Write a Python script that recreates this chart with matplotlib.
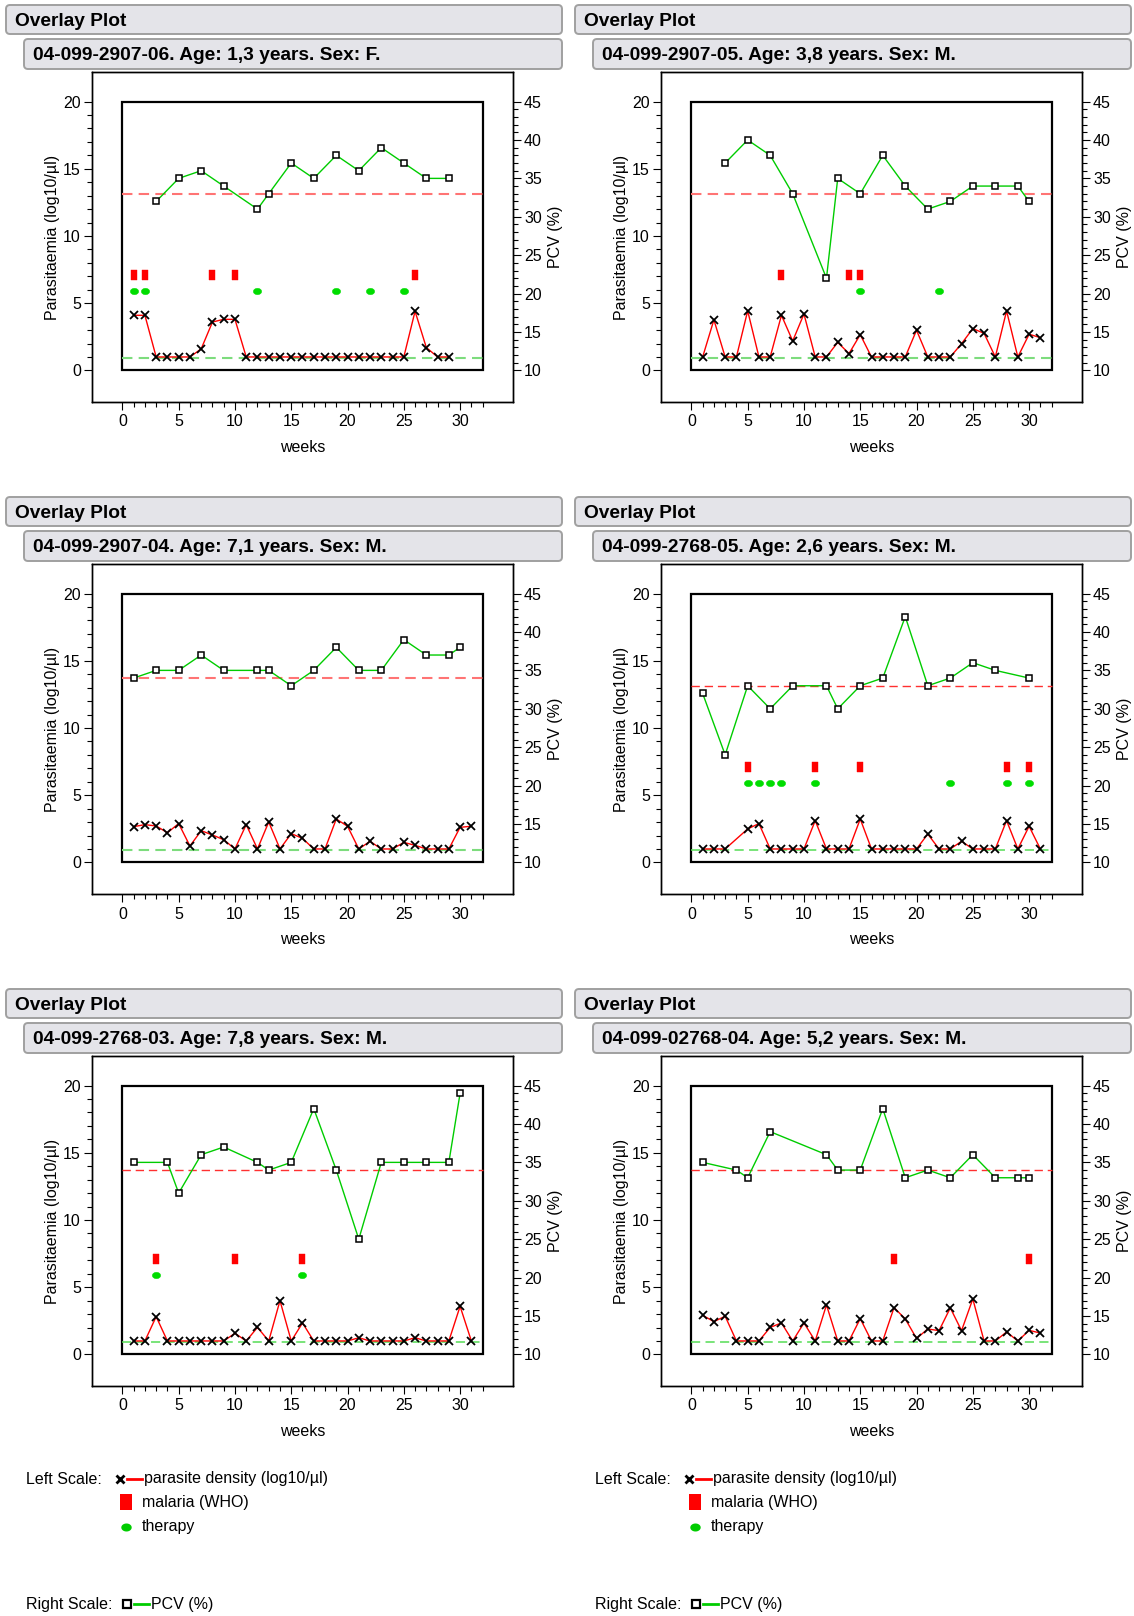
import numpy as np
import matplotlib.pyplot as plt
from matplotlib.patches import FancyBboxPatch, Rectangle
from matplotlib.ticker import FixedLocator

plt.rcParams['font.family'] = ['Liberation Sans', 'DejaVu Sans']

# ---- data ----
titles = [
    "04-099-2907-06. Age: 1,3 years. Sex: F.",
    "04-099-2907-05. Age: 3,8 years. Sex: M.",
    "04-099-2907-04. Age: 7,1 years. Sex: M.",
    "04-099-2768-05. Age: 2,6 years. Sex: M.",
    "04-099-2768-03. Age: 7,8 years. Sex: M.",
    "04-099-02768-04. Age: 5,2 years. Sex: M.",
]

par_weeks_1 = list(range(1, 30))
par_vals_1 = [4.1, 4.1, 1, 1, 1, 1, 1.6, 3.6, 3.8, 3.8, 1, 1, 1, 1, 1, 1, 1, 1, 1, 1,
              1, 1, 1, 1, 1, 4.4, 1.7, 1, 1]
pcv_weeks_1 = [3, 5, 7, 9, 12, 13, 15, 17, 19, 21, 23, 25, 27, 29]
pcv_vals_1 = [32, 35, 36, 34, 31, 33, 37, 35, 38, 36, 39, 37, 35, 35]
malaria_1 = [1, 2, 8, 10, 26]
therapy_1 = [1, 2, 12, 19, 22, 25]

par_weeks_2 = list(range(1, 32))
par_vals_2 = [1, 3.76, 1, 1, 4.43, 1, 1, 4.1, 2.19, 4.2, 1, 1, 2.09, 1.25, 2.66, 1, 1, 1,
              1, 2.99, 1, 1, 1, 1.99, 3.11, 2.76, 1, 4.43, 1, 2.69, 2.44]
pcv_weeks_2 = [3, 5, 7, 9, 12, 13, 15, 17, 19, 21, 23, 25, 27, 29, 30]
pcv_vals_2 = [37, 40, 38, 33, 22, 35, 33, 38, 34, 31, 32, 34, 34, 34, 32]
malaria_2 = [8, 14, 15]
therapy_2 = [15, 22]

par_weeks_3 = list(range(1, 32))
par_vals_3 = [2.66, 2.81, 2.71, 2.21, 2.89, 1.22, 2.36, 2.04, 1.69, 1.0, 2.81, 1.0, 3.01,
              1.0, 2.14, 1.79, 1.0, 1.0, 3.23, 2.69, 1.0, 1.57, 1.0, 1.0, 1.49, 1.27, 1.0,
              1.0, 1.0, 2.61, 2.69]
pcv_weeks_3 = [1, 3, 5, 7, 9, 12, 13, 15, 17, 19, 21, 23, 25, 27, 29, 30]
pcv_vals_3 = [34, 35, 35, 37, 35, 35, 35, 33, 35, 38, 35, 35, 39, 37, 37, 38]
malaria_3 = []
therapy_3 = []

par_weeks_4 = [1, 2, 3] + list(range(5, 32))
par_vals_4 = [1, 1, 1, 2.49, 2.89, 1, 1, 1, 1, 3.11, 1, 1, 1, 3.23, 1, 1, 1, 1, 1, 2.11,
              1, 1, 1.57, 1, 1, 1, 3.11, 1, 2.69, 1]
pcv_weeks_4 = [1, 3, 5, 7, 9, 12, 13, 15, 17, 19, 21, 23, 25, 27, 30]
pcv_vals_4 = [32, 24, 33, 30, 33, 33, 30, 33, 34, 42, 33, 34, 36, 35, 34]
malaria_4 = [5, 11, 15, 28, 30]
therapy_4 = [5, 6, 7, 8, 11, 23, 28, 30]

par_weeks_5 = list(range(1, 32))
par_vals_5 = [1, 1, 2.81, 1, 1, 1, 1, 1, 1, 1.57, 1, 2.01, 1, 4.0, 1, 2.34, 1, 1, 1, 1,
              1.24, 1, 1, 1, 1, 1.24, 1, 1, 1, 3.58, 1]
pcv_weeks_5 = [1, 4, 5, 7, 9, 12, 13, 15, 17, 19, 21, 23, 25, 27, 29, 30]
pcv_vals_5 = [35, 35, 31, 36, 37, 35, 34, 35, 42, 34, 25, 35, 35, 35, 35, 44]
malaria_5 = [3, 10, 16]
therapy_5 = [3, 16]

par_weeks_6 = list(range(1, 32))
par_vals_6 = [2.91, 2.44, 2.84, 1, 1, 1, 2.01, 2.34, 1, 2.34, 1, 3.68, 1, 1, 2.66, 1, 1,
              3.48, 2.64, 1.19, 1.89, 1.77, 3.46, 1.77, 4.13, 1, 1, 1.67, 1, 1.79, 1.59]
pcv_weeks_6 = [1, 4, 5, 7, 12, 13, 15, 17, 19, 21, 23, 25, 27, 29, 30]
pcv_vals_6 = [35, 34, 33, 39, 36, 34, 34, 42, 33, 34, 33, 36, 33, 33, 33]
malaria_6 = [18, 30]
therapy_6 = []

pcv_limits = [33, 33, 34, 33, 34, 34]
par_limit = 0.9
malaria_level = 7.1
therapy_level = 5.9

panels = [
    (par_weeks_1, par_vals_1, pcv_weeks_1, pcv_vals_1, malaria_1, therapy_1),
    (par_weeks_2, par_vals_2, pcv_weeks_2, pcv_vals_2, malaria_2, therapy_2),
    (par_weeks_3, par_vals_3, pcv_weeks_3, pcv_vals_3, malaria_3, therapy_3),
    (par_weeks_4, par_vals_4, pcv_weeks_4, pcv_vals_4, malaria_4, therapy_4),
    (par_weeks_5, par_vals_5, pcv_weeks_5, pcv_vals_5, malaria_5, therapy_5),
    (par_weeks_6, par_vals_6, pcv_weeks_6, pcv_vals_6, malaria_6, therapy_6),
]

# ---- layout (pixels) ----
W, H = 1134, 1616
COL_STEP, ROW_STEP = 569, 492
BOX_W, BOX_H = 32, 20
FS = 11.5

bar_marker = [(-3, -4), (3, -4), (3, 4), (-3, 4), (-3, -4)]
t = np.linspace(0, 2 * np.pi, 40)
oval_marker = list(zip(3.5 * np.cos(t), 2.7 * np.sin(t)))


def px_rect(l, t_, r, b):
    return [l / W, 1 - b / H, (r - l) / W, (b - t_) / H]


fig = plt.figure(figsize=(W / 100, H / 100), dpi=100)
bg = fig.add_axes([0, 0, 1, 1], zorder=-1)
bg.set_xlim(0, W)
bg.set_ylim(H, 0)
bg.axis('off')


def header(x0, y0, w, h, text):
    bg.add_patch(FancyBboxPatch((x0, y0), w, h, boxstyle="round,pad=0,rounding_size=4",
                                fc='#e4e4e9', ec='#a0a0a0', lw=1.4))
    bg.text(x0 + 9, y0 + h / 2 + 2, text, fontsize=13.8, fontweight='bold', va='center')


for i, (pw, pv, cw, cv, mal, thr) in enumerate(panels):
    dx = COL_STEP * (i % 2)
    dy = ROW_STEP * (i // 2)
    thin = i >= 3

    header(6 + dx, 5 + dy, 556, 29, "Overlay Plot")
    header(24 + dx, 39 + dy, 538, 30, titles[i])

    ax = fig.add_axes(px_rect(92 + dx, 72 + dy, 513 + dx, 402 + dy))
    ax.set_xlim(-2.7, 34.7)
    ax.set_ylim(-2.35, 22.2)
    ax2 = ax.twinx()
    lo, hi = ax.get_ylim()
    ax2.set_ylim(10 + 1.75 * lo, 10 + 1.75 * hi)

    for a in (ax, ax2):
        for s in a.spines.values():
            s.set_linewidth(1.0)
    ax.xaxis.set_major_locator(FixedLocator(range(0, 31, 5)))
    ax.xaxis.set_minor_locator(FixedLocator(range(0, 33)))
    ax.yaxis.set_major_locator(FixedLocator(range(0, 21, 5)))
    ax.yaxis.set_minor_locator(FixedLocator(range(0, 21)))
    ax2.yaxis.set_major_locator(FixedLocator(range(10, 46, 5)))
    ax2.yaxis.set_minor_locator(FixedLocator(range(10, 46)))
    ax.tick_params(axis='x', which='both', pad=3)
    ax.tick_params(axis='y', which='both', pad=2)
    ax2.tick_params(axis='y', which='both', pad=2)
    for a in (ax, ax2):
        a.tick_params(which='both', direction='out', labelsize=FS, width=0.8)
        a.tick_params(which='major', length=6)
        a.tick_params(which='minor', length=3.5)

    ax.add_patch(Rectangle((0, 0), BOX_W, BOX_H, fill=False, ec='black', lw=1.6, zorder=1.5))

    if thin:
        ax.hlines(par_limit, 0, BOX_W, colors='#55dd55', linestyles=(0, (6, 3.5)), lw=1.1)
        ax2.hlines(pcv_limits[i], 0, BOX_W, colors='#ff3030', linestyles=(0, (6, 3.5)), lw=1.0)
    else:
        ax.hlines(par_limit, 0, BOX_W, colors='#7ddc7d', linestyles=(0, (5, 3)), lw=1.5)
        ax2.hlines(pcv_limits[i], 0, BOX_W, colors='#ff7474', linestyles=(0, (5, 3)), lw=1.5)

    ax.plot(pw, pv, '-x', color='#ff0000', lw=1, mec='black', ms=5.6, mew=1.3, zorder=4)
    ax.plot(mal, [malaria_level] * len(mal), ls='none', marker=bar_marker, ms=6.6,
            mfc='#ff0000', mec='#ff0000', mew=0.3, zorder=4)
    ax.plot(thr, [therapy_level] * len(thr), ls='none', marker=oval_marker, ms=6.0,
            mfc='#00dd00', mec='#00dd00', mew=0.3, zorder=4)
    ax2.plot(cw, cv, '-s', color='#00cc00', lw=1, mfc='white', mec='black', ms=4.5, mew=1.1,
             zorder=4)

    ax.set_xlabel('weeks', fontsize=FS)
    ax.xaxis.set_label_coords(0.5, -0.115)
    ax.set_ylabel('Parasitaemia (log10/µl)', fontsize=FS)
    ax.yaxis.set_label_coords(-0.076, 0.5)
    ax2.set_ylabel('PCV (%)', fontsize=FS)
    ax2.yaxis.set_label_coords(1.083, 0.5)

# ---- legends under each column ----
for dx in (0, COL_STEP):
    bg.text(26 + dx, 1479, 'Left Scale:', fontsize=FS, va='center')
    bg.plot([127 + dx, 142 + dx], [1479, 1479], color='#ff0000', lw=2)
    bg.plot([120 + dx], [1479], 'x', color='black', ms=6, mew=2)
    bg.text(144 + dx, 1479, 'parasite density (log10/µl)', fontsize=FS, va='center')
    bg.plot([126 + dx], [1502], ls='none', marker=bar_marker, ms=11, color='#ff0000', mew=0)
    bg.text(142 + dx, 1502, 'malaria (WHO)', fontsize=FS, va='center')
    bg.plot([126 + dx], [1527], ls='none', marker=oval_marker, ms=7.5, color='#00cc00', mew=0)
    bg.text(142 + dx, 1527, 'therapy', fontsize=FS, va='center')
    bg.text(26 + dx, 1604, 'Right Scale:', fontsize=FS, va='center')
    bg.plot([134 + dx, 149 + dx], [1604, 1604], color='#00cc00', lw=2)
    bg.plot([127 + dx], [1604], 's', mfc='white', mec='black', ms=5.5, mew=1.6)
    bg.text(151 + dx, 1604, 'PCV (%)', fontsize=FS, va='center')

fig.savefig('out.png', dpi=100, facecolor='white')
